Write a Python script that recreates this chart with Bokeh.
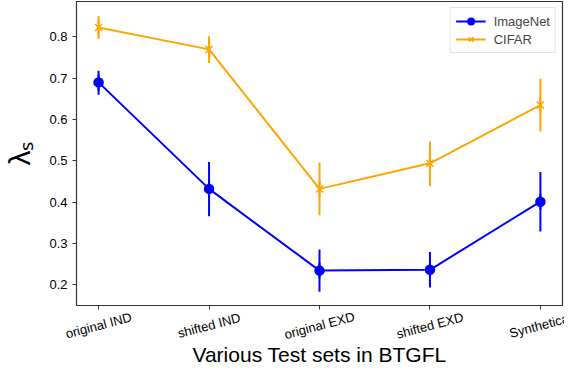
import numpy as np
from bokeh.plotting import figure
from bokeh.models import FixedTicker, Range1d, Legend, LegendItem
from bokeh.core.properties import value
from bokeh.embed import file_html
from bokeh.resources import INLINE

categories = ["original IND", "shifted IND", "original EXD", "shifted EXD", "Synthetical"]
imagenet = [0.690, 0.432, 0.234, 0.236, 0.401]
imagenet_lo = [0.660, 0.366, 0.183, 0.193, 0.329]
imagenet_hi = [0.718, 0.497, 0.285, 0.279, 0.473]
cifar = [0.823, 0.770, 0.432, 0.494, 0.635]
cifar_lo = [0.795, 0.737, 0.368, 0.439, 0.571]
cifar_hi = [0.851, 0.802, 0.496, 0.547, 0.699]
y_ticks = [0.2, 0.3, 0.4, 0.5, 0.6, 0.7, 0.8]

x = list(range(len(categories)))
FONT = "Liberation Sans"
BLUE = "#0000ff"
ORANGE = "#ffa500"
DARK = "#333333"
Y0, Y1 = 0.1495, 0.886

p = figure(width=564, height=368, output_backend="svg", toolbar_location=None,
           x_range=Range1d(-0.2, 4.2), y_range=Range1d(Y0, Y1),
           min_border_left=64, min_border_right=2, min_border_top=1, min_border_bottom=0)
p.xgrid.visible = False
p.ygrid.visible = False
p.outline_line_color = DARK
p.outline_line_width = 1.2

def series(vals, lo, hi, color, marker, size):
    p.segment(x0=x, y0=lo, x1=x, y1=hi, line_color=color, line_width=2)
    ln = p.line(x, vals, line_color=color, line_width=2)
    dash = p.scatter(x, vals, marker="dash", angle=np.pi / 2, size=16,
                     line_color=color, line_width=2)
    mk = p.scatter(x, vals, marker=marker, size=size, line_color=color,
                   fill_color=color, line_width=1.5)
    return [ln, dash, mk]

r1 = series(imagenet, imagenet_lo, imagenet_hi, BLUE, "circle", 9)
r2 = series(cifar, cifar_lo, cifar_hi, ORANGE, "x", 10)

legend = Legend(items=[LegendItem(label="ImageNet", renderers=r1),
                       LegendItem(label="CIFAR", renderers=r2)],
                location="top_right", label_text_font=FONT, label_text_font_size="13px",
                border_line_color="#cccccc", border_line_width=1, background_fill_alpha=0.8,
                glyph_width=30, glyph_height=16, label_height=16, spacing=2,
                padding=5, margin=6, label_standoff=8)
p.add_layout(legend)

for ax in (p.xaxis[0], p.yaxis[0]):
    ax.axis_line_color = DARK
    ax.major_tick_line_color = DARK
    ax.major_tick_out = 4
    ax.major_tick_in = 0
    ax.minor_tick_line_color = None
    ax.major_label_text_font = FONT
    ax.major_label_text_font_size = "13px"
    ax.major_label_text_color = "black"
    ax.axis_label_text_font = FONT
    ax.axis_label_text_font_style = "normal"
    ax.axis_label_text_color = "black"

xa = p.xaxis[0]
xa.ticker = FixedTicker(ticks=x)
xa.major_label_text_color = None
xa.major_label_standoff = 12
xa.axis_label = "Various Test sets in BTGFL"
xa.axis_label_text_font_size = "21px"
xa.axis_label_standoff = 33

# category labels: rotated and centred under each tick (drawn unclipped on overlay level)
p.text(x=x, y=[Y0] * len(x), text=categories, angle=0.26, y_offset=20,
       text_align="center", text_baseline="middle", level="overlay",
       text_font=value(FONT), text_font_size="13px", text_color="black")

ya = p.yaxis[0]
ya.ticker = FixedTicker(ticks=y_ticks)
ya.axis_label = "λₛ"
ya.axis_label_text_font_size = "30px"
ya.axis_label_standoff = 10

open("out.html", "w").write(file_html(p, INLINE))
